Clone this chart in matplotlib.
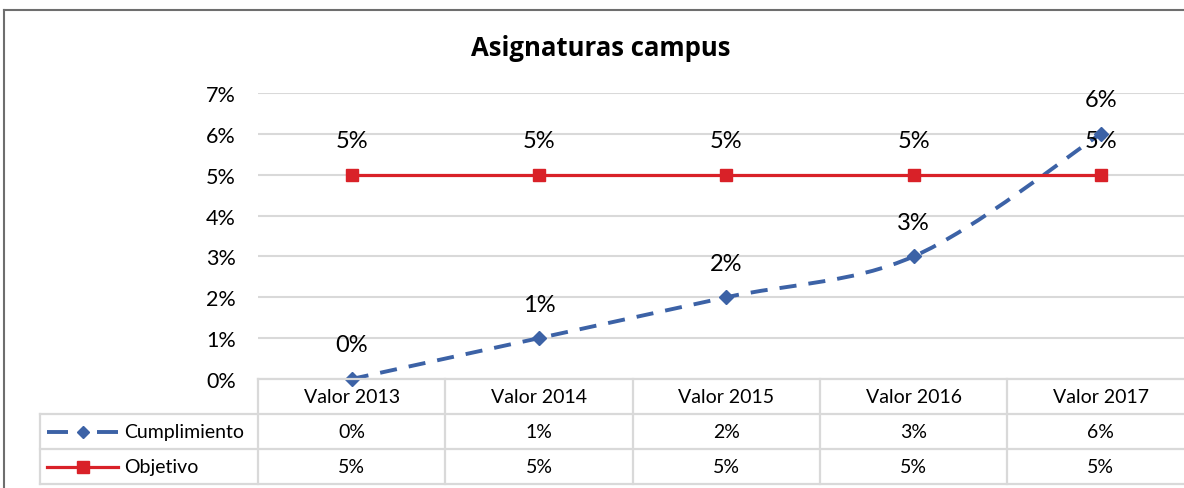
import matplotlib.pyplot as plt
from matplotlib.path import Path
from matplotlib.patches import PathPatch
from matplotlib.lines import Line2D
import numpy as np

plt.rcParams['font.family'] = ['Lato', 'DejaVu Sans']

years = ['Valor 2013', 'Valor 2014', 'Valor 2015', 'Valor 2016', 'Valor 2017']
cumplimiento = [0.00, 0.01, 0.02, 0.03, 0.06]
objetivo = [0.05, 0.05, 0.05, 0.05, 0.05]
series_names = ['Cumplimiento', 'Objetivo']

blue = '#3C62A6'
red = '#D92128'
grid = '#D9D9D9'

W, H = 1184, 489
fig = plt.figure(figsize=(W / 100, H / 100), dpi=100)

# plot area in pixels (left, top, right, bottom)
pl, pt, pr, pb = 258, 94, 1194.5, 380
ax = fig.add_axes([pl / W, 1 - pb / H, (pr - pl) / W, (pb - pt) / H])
ax.set_xlim(-0.5, 4.5)
ax.set_ylim(0, 0.07)
yt = np.arange(0, 0.071, 0.01)
ax.set_yticks(yt)
ax.set_yticklabels([f'{int(round(v * 100))}%' for v in yt], fontsize=15.5)
ax.set_xticks([])
ax.tick_params(axis='y', length=0, pad=16)
for s in ax.spines.values():
    s.set_visible(False)
ax.grid(axis='y', color=grid, lw=1.5)
ax.set_axisbelow(True)

x = np.arange(len(years))

# smoothed line (Excel style) via Catmull-Rom -> bezier
pts = np.column_stack([x, cumplimiento]).astype(float)
ext = np.vstack([pts[0], pts, pts[-1]])
verts = [tuple(pts[0])]
codes = [Path.MOVETO]
for i in range(len(pts) - 1):
    p0, p1, p2, p3 = ext[i], ext[i + 1], ext[i + 2], ext[i + 3]
    c1 = p1 + (p2 - p0) / 6
    c2 = p2 - (p3 - p1) / 6
    verts += [tuple(c1), tuple(c2), tuple(p2)]
    codes += [Path.CURVE4] * 3
ax.add_patch(PathPatch(Path(verts, codes), fill=False, edgecolor=blue, lw=2.8,
                       linestyle=(0, (4.4, 3.1)), clip_on=False, zorder=3))
ax.plot(x, cumplimiento, ls='none', marker='D', ms=7, color=blue, clip_on=False, zorder=4)

ax.plot(x, objetivo, color=red, lw=2.3, marker='s', ms=9, clip_on=False, zorder=4)

for xi, v in zip(x, cumplimiento):
    ax.annotate(f'{int(round(v * 100))}%', (xi, v), xytext=(0, 24.5), textcoords='offset points',
                ha='center', va='center', fontsize=17)
for xi, v in zip(x, objetivo):
    ax.annotate(f'{int(round(v * 100))}%', (xi, v), xytext=(0, 24.5), textcoords='offset points',
                ha='center', va='center', fontsize=17)

fig.text(601 / W, 1 - 49 / H, 'Asignaturas campus', ha='center', va='center',
         fontsize=18.5, fontweight='bold', family=['Open Sans', 'DejaVu Sans'])

# data table
def fy(py):
    return 1 - py / H

def fx(px):
    return px / W

rows_y = [380, 415, 450, 485]
col_edges = [pl + i * (pr - pl) / 5 for i in range(6)]
tl = 40
lkw = dict(color=grid, lw=1.6, transform=fig.transFigure, clip_on=False)
fig.add_artist(Line2D([fx(pl), 1], [fy(380), fy(380)], **lkw))
for yy in rows_y[1:]:
    fig.add_artist(Line2D([fx(tl), 1], [fy(yy), fy(yy)], **lkw))
fig.add_artist(Line2D([fx(tl), fx(tl)], [fy(415), fy(485)], **lkw))
for ce in col_edges[:-1]:
    fig.add_artist(Line2D([fx(ce), fx(ce)], [fy(380), fy(485)], **lkw))

fs = 14
for i, yr in enumerate(years):
    cx = (col_edges[i] + col_edges[i + 1]) / 2
    fig.text(fx(cx), fy(397.5), yr, ha='center', va='center', fontsize=fs)
    fig.text(fx(cx), fy(432.5), f'{int(round(cumplimiento[i] * 100))}%', ha='center', va='center', fontsize=fs)
    fig.text(fx(cx), fy(467.5), f'{int(round(objetivo[i] * 100))}%', ha='center', va='center', fontsize=fs)

# legend keys in the table
for a, b in [(47, 68), (97, 118)]:
    fig.add_artist(Line2D([fx(a), fx(b)], [fy(432.5)] * 2, color=blue, lw=2.8,
                          solid_capstyle='butt', transform=fig.transFigure))
fig.add_artist(Line2D([fx(82.5)], [fy(432.5)], color=blue, marker='D', ms=6, ls='none',
                      transform=fig.transFigure))
fig.add_artist(Line2D([fx(47), fx(118)], [fy(467.5)] * 2, color=red, lw=2.3,
                      transform=fig.transFigure))
fig.add_artist(Line2D([fx(82.5)], [fy(467.5)], color=red, marker='s', ms=9, ls='none',
                      transform=fig.transFigure))
fig.text(fx(124), fy(432.5), series_names[0], ha='left', va='center', fontsize=fs)
fig.text(fx(124), fy(467.5), series_names[1], ha='left', va='center', fontsize=fs)

# outer chart border
bkw = dict(color='#6E6E6E', lw=1.5, transform=fig.transFigure, clip_on=False)
fig.add_artist(Line2D([fx(3.5), 1], [fy(10.5), fy(10.5)], **bkw))
fig.add_artist(Line2D([fx(3.5), fx(3.5)], [fy(10.5), 0], **bkw))

fig.savefig('out.png', dpi=100)
